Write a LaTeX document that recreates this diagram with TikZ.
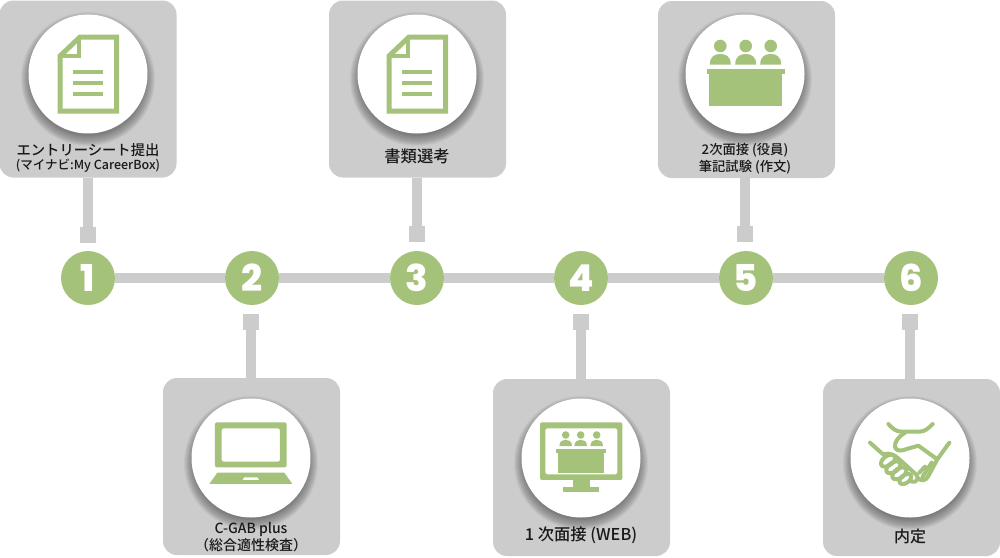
\documentclass[tikz,border=0pt]{standalone}
\usepackage{fontspec}
\usetikzlibrary{backgrounds}
\setmainfont{Noto Sans CJK JP}[UprightFont=* Medium]
\newfontfamily\numfont{Poppins}[UprightFont=* ExtraBold]
\definecolor{grn}{HTML}{A5C27A}
\definecolor{gry}{HTML}{CCCCCC}
\tikzset{
 x=1pt,y=-1pt,
 card/.style={fill=gry,rounded corners=14pt,minimum width=177pt,minimum height=177pt,inner sep=0pt,draw=none},
 disc/.style={circle,fill=white,minimum size=119pt,inner sep=0pt,draw=none},
 numdot/.style={circle,fill=grn,text=white,minimum size=54pt,inner sep=0pt,font=\numfont\fontsize{37}{37}\selectfont},
 stub/.style={fill=gry,minimum width=16pt,minimum height=16pt,inner sep=0pt,draw=none},
 link/.style={draw=gry,line width=10pt},
 lab/.style={text=black!90,align=center,inner sep=0pt},
 ic/.style={draw=grn,line width=5pt,fill=white,line join=miter},
 hand/.style={draw=grn,line width=4pt,line cap=round,line join=round},
}
\newcommand{\softshadow}[2]{%
 \foreach \rr/\dd in {67/5,66/5,65/5,64/5,63/5,62/5,61/4.5,60/4.5,59/4,58/4,57/3.5,56/3.5}{\fill[black,opacity=0.045] (#1,#2+\dd) circle[radius=\rr pt];}}
\newcommand{\docicon}[2]{%
 \begin{scope}[shift={(#1,#2)}]
  \draw[ic] (-28,-18) -- (-8,-37) -- (28.5,-37) -- (28.5,37) -- (-28,37) -- cycle;
  \draw[grn,line width=4.5pt,line join=miter] (-9,-37) -- (-9,-18) -- (-28,-18);
  \fill[grn] (-15,-4) rectangle (15,-0.5);
  \fill[grn] (-15,7) rectangle (15,10.5);
  \fill[grn] (-15,18) rectangle (15,21.5);
 \end{scope}}
\newcommand{\person}[3]{% x y scale
 \fill[grn] (#1,#2) circle[radius=6.3*#3 pt];
 \fill[grn] (#1-10.5*#3,#2+18.5*#3) .. controls (#1-10.5*#3,#2+10*#3) and (#1-5*#3,#2+8*#3) .. (#1,#2+8*#3)
   .. controls (#1+5*#3,#2+8*#3) and (#1+10.5*#3,#2+10*#3) .. (#1+10.5*#3,#2+18.5*#3) -- cycle;}
\begin{document}
\begin{tikzpicture}
\useasboundingbox (0,0) rectangle (1000,557);
% number row
\node[numdot] (n1) at (88,278) {1};
\node[numdot] (n2) at (252,278) {2};
\node[numdot] (n3) at (417,278) {3};
\node[numdot] (n4) at (581,278) {4};
\node[numdot] (n5) at (746,278) {5};
\node[numdot] (n6) at (911,278) {6};
% cards
\node[card] (c1) at (88,89) {};
\node[card] (c3) at (417.5,89) {};
\node[card] (c5) at (746.5,89.5) {};
\node[card] (c2) at (251.5,466.5) {};
\node[card] (c4) at (581.5,467.5) {};
\node[card] (c6) at (911.5,467.5) {};
% stubs
\node[stub] (s1) at (88,235) {};
\node[stub] (s3) at (417,234) {};
\node[stub] (s5) at (745,234) {};
\node[stub] (s2) at (251,322) {};
\node[stub] (s4) at (581,322) {};
\node[stub] (s6) at (910,322) {};
% connectors
\begin{pgfonlayer}{background}
\foreach \a/\b in {n1/n2,n2/n3,n3/n4,n4/n5,n5/n6}{\path[link] (\a) -- (\b);}
\path[link] (c1.south -| s1) -- (s1);
\path[link] (c3.south -| s3) -- (s3);
\path[link] (c5.south -| s5) -- (s5);
\path[link] (s2) -- (c2.north -| s2);
\path[link] (s4) -- (c4.north -| s4);
\path[link] (s6) -- (c6.north -| s6);
\end{pgfonlayer}
% discs
\softshadow{88}{74}\softshadow{417}{74}\softshadow{745}{74}\softshadow{251}{458}\softshadow{581}{458}\softshadow{910}{458}
\node[disc] (d1) at (88,74) {};
\node[disc] (d3) at (417,74) {};
\node[disc] (d5) at (745,74) {};
\node[disc] (d2) at (251,458) {};
\node[disc] (d4) at (581,458) {};
\node[disc] (d6) at (910,458) {};
% icons
\docicon{88}{74}
\docicon{417}{74}
% panel
\begin{scope}
 \person{720.3}{46}{1}\person{745.7}{46}{1}\person{770.7}{46}{1}
 \fill[grn] (706.7,68.7) rectangle (785,74);
 \fill[grn] (709,74) rectangle (782.3,105.7);
\end{scope}
% laptop
\begin{scope}[shift={(160,370)},x=0.3333pt,y=-0.3333pt]
 \fill[grn,even odd rule,rounded corners=2pt] (165,157) rectangle (380,292) (185,175) rectangle (360,275);
 \fill[grn] (148,342) -- (172,308) -- (373,308) -- (397,342) -- cycle;
 \fill[white] (248,330) -- (253,322) -- (292,322) -- (297,330) -- cycle;
\end{scope}
% monitor
\begin{scope}[shift={(490,370)},x=0.3333pt,y=-0.3333pt]
 \fill[grn,even odd rule,rounded corners=2pt] (150,157) rectangle (397,330) (166,175) rectangle (382,313);
 \fill[grn] (248,330) rectangle (300,352);
 \fill[grn] (220,352) rectangle (328,365);
 \fill[grn] (198,238) rectangle (348,248);
 \fill[grn] (204,248) rectangle (342,310);
\end{scope}
\person{565.7}{435}{0.6}\person{580.7}{435}{0.6}\person{596.7}{435}{0.6}
% handshake
\begin{scope}[shift={(860,410)},x=0.3333pt,y=-0.3333pt]
 \draw[hand] (85,42) .. controls (98,56) and (108,65) .. (125,65) -- (178,65) .. controls (195,65) and (205,55) .. (218,42);
 \draw[hand] (135,68) .. controls (118,78) and (102,95) .. (105,112) .. controls (110,125) and (125,123) .. (140,117) -- (175,107) -- (232,148);
 \draw[hand] (30,98) -- (68,132);
 \draw[hand] (268,98) -- (232,148) -- (205,198) .. controls (198,212) and (185,215) .. (175,205);
 \draw[hand] (72,132) .. controls (90,128) and (105,135) .. (118,148) -- (170,195) .. controls (176,205) and (172,218) .. (155,215);
 \draw[hand,rotate around={35:(84,152)}] (84,152) ellipse[x radius=24,y radius=14];
 \draw[hand,rotate around={35:(100,172)}] (100,172) ellipse[x radius=24,y radius=14];
 \draw[hand,rotate around={35:(118,190)}] (118,190) ellipse[x radius=24,y radius=14];
 \draw[hand,rotate around={35:(136,207)}] (136,207) ellipse[x radius=20,y radius=12];
 \draw[hand] (178,188) -- (195,170);
 \draw[hand] (188,200) -- (215,158);
\end{scope}
% labels
\node[lab,font=\fontsize{14.3}{15}\selectfont] (t1a) at (88,150) {エントリーシート提出};
\node[lab,font=\fontsize{12.5}{13}\selectfont] (t1b) at (88,165.5) {(マイナビ:My CareerBox)};
\node[lab,font=\fontsize{16.3}{16}\selectfont] (t3) at (417,156) {書類選考};
\node[lab,font=\fontsize{13.3}{16.5}\selectfont] (t5) at (745,158.5) {2次面接 (役員)\\筆記試験 (作文)};
\node[lab,font=\fontsize{14}{16.5}\selectfont] (t2) at (251,537) {C-GAB plus\\（総合適性検査）};
\node[lab,font=\fontsize{16.3}{16}\selectfont] (t4) at (581,535) {1 次面接 (WEB)};
\node[lab,font=\fontsize{16}{16}\selectfont] (t6) at (910,536) {内定};
\end{tikzpicture}
\end{document}
